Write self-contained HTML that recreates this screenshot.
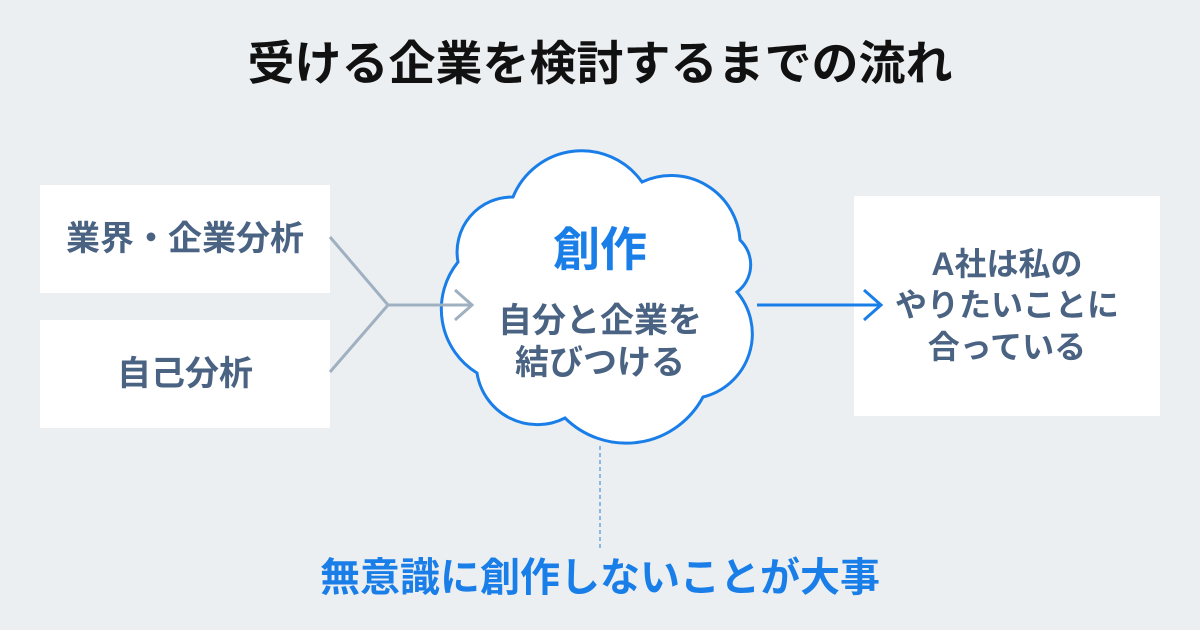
<!DOCTYPE html>
<html><head><meta charset="utf-8"><style>
body{margin:0;width:1200px;height:630px;background:#eceff1;position:relative;overflow:hidden;font-family:"Liberation Sans","Noto Sans CJK JP",sans-serif;}
.t{position:absolute;left:0;width:1200px;text-align:center;font-weight:bold}
.box{position:absolute;background:#fff;color:#4a6383;font-weight:bold;font-size:34px;display:flex;align-items:center;justify-content:center;text-align:center;line-height:1.3}
</style></head><body>
<div class="t" style="top:34px;font-size:47px;line-height:60px;color:#111">受ける企業を検討するまでの流れ</div>
<div class="box" style="left:40px;top:185px;width:290px;height:108px">業界・企業分析</div>
<div class="box" style="left:40px;top:320px;width:290px;height:108px">自己分析</div>
<div class="box" style="left:854px;top:196px;width:306px;height:220px;font-size:32px">A社は私の<br>やりたいことに<br>合っている</div>
<svg width="1200" height="630" style="position:absolute;left:0;top:0">
<path d="M513 197 A74 74 0 0 1 642 182 A69 69 0 0 1 740 240 A34 34 0 0 1 737 292 A65 65 0 0 1 703 397 A87 87 0 0 1 565 418 A61 61 0 0 1 477 373 A75 75 0 0 1 458 262 A55 55 0 0 1 513 197 Z" fill="#fff" stroke="#1a7ee8" stroke-width="3"/>
<g stroke="#9fb0c0" stroke-width="3" fill="none">
<path d="M330 237 L388 305 L330 372"/><path d="M388 305 H470"/><path d="M455 290 L472 305 L455 320"/>
</g>
<g stroke="#1a7ee8" stroke-width="3" fill="none"><path d="M757 305 H880"/><path d="M864 290 L881 305 L864 320"/></g>
<path d="M600 446 V548" stroke="#6aa6e0" stroke-width="1.5" stroke-dasharray="4 3"/>
</svg>
<div class="t" style="top:220px;font-size:47px;line-height:60px;color:#1a7ee8">創作</div>
<div class="t" style="top:300px;font-size:34px;color:#4a6383;line-height:42px">自分と企業を<br>結びつける</div>
<div class="t" style="top:552px;font-size:40px;line-height:52px;color:#1a7ee8">無意識に創作しないことが大事</div>
</body></html>
